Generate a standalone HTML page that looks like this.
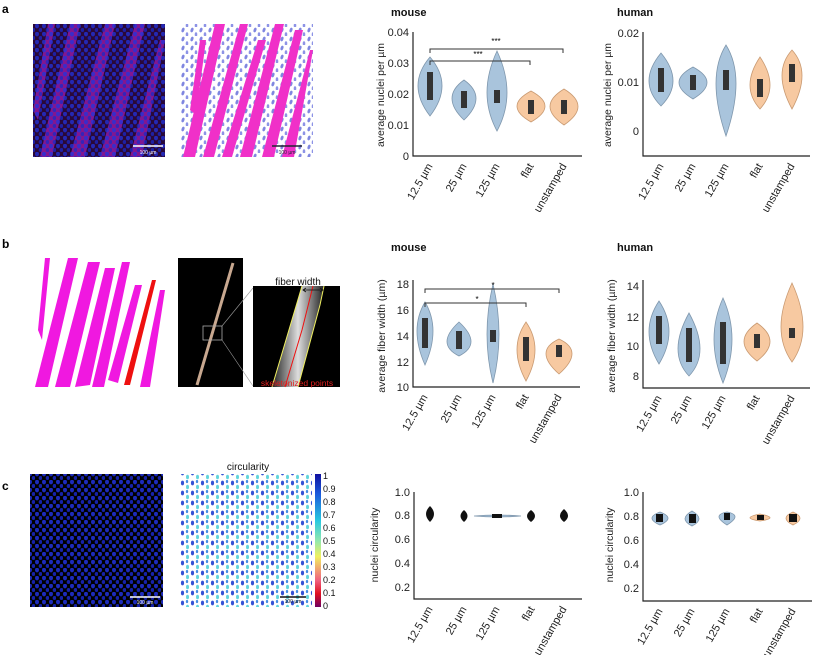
<!DOCTYPE html>
<html><head><meta charset="utf-8"><style>
html,body{margin:0;padding:0;background:#fff}
svg{display:block;font-family:"Liberation Sans",Arial,sans-serif}
.t{font-size:11px;fill:#222}
.al{font-size:10.5px;fill:#222}
.ttl{font-size:11px;font-weight:bold;fill:#111}
.bl{fill:#a9c4dc;stroke:#7f97ad;stroke-width:.8}
.or{fill:#f7c9a1;stroke:#c99a72;stroke-width:.8}
.bx{fill:#333}
.ax{stroke:#222;stroke-width:1.2;fill:none}
.br{stroke:#333;stroke-width:1;fill:none}
</style></head><body>
<svg width="813" height="655" viewBox="0 0 813 655">
<defs>
<pattern id="pb" width="7" height="8" patternUnits="userSpaceOnUse"><ellipse cx="2" cy="2" rx="2" ry="2.4" fill="#2233dd"/><ellipse cx="5.5" cy="6" rx="1.8" ry="2" fill="#1a28c8"/></pattern>
<pattern id="pl" width="9" height="9" patternUnits="userSpaceOnUse"><ellipse cx="3" cy="3" rx="1.4" ry="2.4" fill="#7f86e0" transform="rotate(20 3 3)"/><ellipse cx="7" cy="7.5" rx="1.3" ry="2.2" fill="#8d93e6"/></pattern>
<pattern id="pc" width="10" height="10" patternUnits="userSpaceOnUse"><ellipse cx="2.5" cy="3" rx="1.6" ry="2.4" fill="#2040d0"/><ellipse cx="7.5" cy="7" rx="1.5" ry="2.3" fill="#50d0d8"/><ellipse cx="7" cy="1.5" rx="1.2" ry="1.6" fill="#3080e0"/></pattern>
<linearGradient id="cb" x1="0" y1="0" x2="0" y2="1">
<stop offset="0" stop-color="#1010a0"/><stop offset=".15" stop-color="#1a5adc"/><stop offset=".35" stop-color="#28c8e0"/><stop offset=".5" stop-color="#90e8b0"/><stop offset=".62" stop-color="#f0f060"/><stop offset=".8" stop-color="#f06080"/><stop offset=".9" stop-color="#e01020"/><stop offset="1" stop-color="#700060"/></linearGradient>
<linearGradient id="fb" x1="0" y1="0" x2="1" y2="0"><stop offset="0" stop-color="#222"/><stop offset=".5" stop-color="#ddd"/><stop offset="1" stop-color="#222"/></linearGradient>
</defs>

<text x="2" y="13" style="font-size:12px;font-weight:bold">a</text>
<text x="2" y="248" style="font-size:12px;font-weight:bold">b</text>
<text x="2" y="490" style="font-size:12px;font-weight:bold">c</text>

<!-- image a1 -->
<rect x="33" y="24" width="132" height="133" fill="#2a0838"/>
<g fill="#b020c0" opacity=".65">
<polygon points="40,157 70,24 80,24 52,157"/><polygon points="70,157 105,24 115,24 85,157"/><polygon points="100,157 135,24 145,24 115,157"/><polygon points="130,157 160,40 165,40 142,157"/><polygon points="33,110 48,24 55,24 38,120"/>
</g>
<rect x="33" y="24" width="132" height="133" fill="url(#pb)" opacity=".75"/>
<line x1="133" y1="146" x2="163" y2="146" stroke="#fff" stroke-width="1.5"/>
<text x="148" y="154" text-anchor="middle" style="font-size:5px;fill:#fff">100 µm</text>

<!-- image a2 -->
<rect x="181" y="24" width="132" height="133" fill="#fff"/>
<rect x="181" y="24" width="132" height="133" fill="url(#pl)"/>
<g fill="#f030c8">
<polygon points="183,157 215,24 225,24 195,157"/><polygon points="203,157 240,24 248,24 214,157"/><polygon points="222,157 258,40 266,40 232,157"/><polygon points="240,157 275,24 284,24 252,157"/><polygon points="262,157 295,30 303,30 274,157"/><polygon points="282,157 310,50 313,50 294,157"/><polygon points="190,110 200,40 206,40 196,115"/>
</g>
<line x1="272" y1="146" x2="302" y2="146" stroke="#223" stroke-width="1.5"/>
<text x="287" y="154" text-anchor="middle" style="font-size:5px;fill:#223">100 µm</text>

<!-- mouse a -->
<text x="391" y="16" class="ttl">mouse</text>
<path class="ax" d="M413,32 V156 H582"/>
<g class="t" text-anchor="end">
<text x="409" y="36">0.04</text><text x="409" y="67">0.03</text><text x="409" y="98">0.02</text><text x="409" y="129">0.01</text><text x="409" y="160">0</text></g>
<text class="al" transform="translate(384,95) rotate(-90)" text-anchor="middle">average nuclei per µm</text>
<path class="bl" d="M430,57 Q454,85 430,116 Q406,85 430,57Z"/><rect class="bx" x="427" y="72" width="6" height="28"/>
<path class="bl" d="M464,80 Q488,97 464,120 Q440,97 464,80Z"/><rect class="bx" x="461" y="91" width="6" height="17"/>
<path class="bl" d="M497,51 Q517,94 497,131 Q477,94 497,51Z"/><rect class="bx" x="494" y="90" width="6" height="13"/>
<path class="or" d="M531,91 Q559,106 531,122 Q503,106 531,91Z"/><rect class="bx" x="528" y="100" width="6" height="14"/>
<path class="or" d="M564,89 Q592,106 564,125 Q536,106 564,89Z"/><rect class="bx" x="561" y="100" width="6" height="14"/>
<path class="br" d="M430,53 V49 H563 V53 M430,65 V61 H530 V65"/>
<text x="496" y="44" text-anchor="middle" style="font-size:8px">***</text>
<text x="478" y="57" text-anchor="middle" style="font-size:8px">***</text>
<g class="t" text-anchor="end">
<text transform="translate(433,166) rotate(-60)">12.5 µm</text><text transform="translate(467,166) rotate(-60)">25 µm</text><text transform="translate(500,166) rotate(-60)">125 µm</text><text transform="translate(534,166) rotate(-60)">flat</text><text transform="translate(567,166) rotate(-60)">unstamped</text></g>

<!-- human a -->
<text x="617" y="16" class="ttl">human</text>
<path class="ax" d="M643,32 V156 H810"/>
<g class="t" text-anchor="end"><text x="639" y="37">0.02</text><text x="639" y="86">0.01</text><text x="639" y="135">0</text></g>
<text class="al" transform="translate(611,95) rotate(-90)" text-anchor="middle">average nuclei per µm</text>
<path class="bl" d="M661,53 Q685,82 661,106 Q637,82 661,53Z"/><rect class="bx" x="658" y="68" width="6" height="24"/>
<path class="bl" d="M693,67 Q721,82 693,99 Q665,82 693,67Z"/><rect class="bx" x="690" y="75" width="6" height="15"/>
<path class="bl" d="M726,45 Q746,77 726,136 Q706,77 726,45Z"/><rect class="bx" x="723" y="70" width="6" height="20"/>
<path class="or" d="M760,57 Q780,87 760,109 Q740,87 760,57Z"/><rect class="bx" x="757" y="79" width="6" height="18"/>
<path class="or" d="M792,50 Q812,72 792,109 Q772,72 792,50Z"/><rect class="bx" x="789" y="64" width="6" height="18"/>
<g class="t" text-anchor="end">
<text transform="translate(664,166) rotate(-60)">12.5 µm</text><text transform="translate(696,166) rotate(-60)">25 µm</text><text transform="translate(729,166) rotate(-60)">125 µm</text><text transform="translate(763,166) rotate(-60)">flat</text><text transform="translate(795,166) rotate(-60)">unstamped</text></g>

<!-- image b1 -->
<rect x="33" y="254" width="132" height="133" fill="#fff"/>
<g fill="#f018e0">
<polygon points="35,387 68,258 78,258 48,387"/><polygon points="55,387 88,262 100,262 70,387"/><polygon points="75,387 105,268 115,268 90,385"/><polygon points="92,387 122,262 130,262 104,387"/><polygon points="108,380 135,285 142,285 118,383"/><polygon points="140,387 160,290 165,290 150,387"/><polygon points="38,330 45,258 50,258 42,340"/>
</g>
<polygon points="124,385 152,280 156,280 130,385" fill="#ee1010"/>

<!-- image b2 -->
<rect x="178" y="258" width="65" height="129" fill="#000"/>
<line x1="197" y1="385" x2="233" y2="263" stroke="#c8a890" stroke-width="3"/>
<rect x="203" y="326" width="19" height="14" fill="none" stroke="#aaa" stroke-width=".8"/>
<line x1="222" y1="326" x2="253" y2="288" stroke="#999" stroke-width=".6"/>
<line x1="222" y1="340" x2="253" y2="386" stroke="#999" stroke-width=".6"/>
<rect x="253" y="286" width="87" height="101" fill="#000"/>
<polygon points="272,387 302,286 324,286 320,305 298,387" fill="url(#fb)"/>
<path d="M272,387 L302,286 M298,387 L320,305 L324,286" stroke="#f0f060" stroke-width="1" fill="none"/>
<path d="M285,387 L302,330 L313,286" stroke="#ee1010" stroke-width="1" fill="none"/>
<text x="298" y="285" text-anchor="middle" style="font-size:10px;fill:#111">fiber width</text>
<path d="M303,290 H323 M306,288 L303,290 L306,292 M320,288 L323,290 L320,292" stroke="#111" stroke-width=".8" fill="none"/>
<text x="297" y="386" text-anchor="middle" style="font-size:8.5px;fill:#e02020">skeletonized points</text>

<!-- mouse b -->
<text x="391" y="251" class="ttl">mouse</text>
<path class="ax" d="M413,280 V387 H580"/>
<g class="t" text-anchor="end"><text x="409" y="288">18</text><text x="409" y="314">16</text><text x="409" y="340">14</text><text x="409" y="366">12</text><text x="409" y="391">10</text></g>
<text class="al" transform="translate(385,336) rotate(-90)" text-anchor="middle">average fiber width (µm)</text>
<path class="bl" d="M425,302 Q441,329 425,365 Q409,329 425,302Z"/><rect class="bx" x="422" y="318" width="6" height="30"/>
<path class="bl" d="M459,322 Q483,344 459,356 Q435,344 459,322Z"/><rect class="bx" x="456" y="331" width="6" height="18"/>
<path class="bl" d="M493,284 Q505,335 493,383 Q481,335 493,284Z"/><rect class="bx" x="490" y="330" width="6" height="12"/>
<path class="or" d="M526,322 Q544,348 526,381 Q508,348 526,322Z"/><rect class="bx" x="523" y="337" width="6" height="24"/>
<path class="or" d="M559,339 Q585,351 559,374 Q533,351 559,339Z"/><rect class="bx" x="556" y="345" width="6" height="12"/>
<path class="br" d="M425,293 V289 H559 V293 M425,307 V303 H526 V307"/>
<text x="477" y="302" text-anchor="middle" style="font-size:8px">*</text>
<text x="493" y="288" text-anchor="middle" style="font-size:8px">*</text>
<g class="t" text-anchor="end">
<text transform="translate(428,397) rotate(-60)">12.5 µm</text><text transform="translate(462,397) rotate(-60)">25 µm</text><text transform="translate(496,397) rotate(-60)">125 µm</text><text transform="translate(529,397) rotate(-60)">flat</text><text transform="translate(562,397) rotate(-60)">unstamped</text></g>

<!-- human b -->
<text x="617" y="251" class="ttl">human</text>
<path class="ax" d="M643,280 V388 H810"/>
<g class="t" text-anchor="end"><text x="639" y="290">14</text><text x="639" y="321">12</text><text x="639" y="350">10</text><text x="639" y="380">8</text></g>
<text class="al" transform="translate(615,336) rotate(-90)" text-anchor="middle">average fiber width (µm)</text>
<path class="bl" d="M659,301 Q679,331 659,364 Q639,331 659,301Z"/><rect class="bx" x="656" y="316" width="6" height="28"/>
<path class="bl" d="M689,313 Q711,353 689,376 Q667,353 689,313Z"/><rect class="bx" x="686" y="328" width="6" height="34"/>
<path class="bl" d="M723,298 Q741,338 723,383 Q705,338 723,298Z"/><rect class="bx" x="720" y="322" width="6" height="42"/>
<path class="or" d="M757,323 Q783,341 757,361 Q731,341 757,323Z"/><rect class="bx" x="754" y="334" width="6" height="14"/>
<path class="or" d="M792,283 Q814,331 792,362 Q770,331 792,283Z"/><rect class="bx" x="789" y="328" width="6" height="10"/>
<g class="t" text-anchor="end">
<text transform="translate(662,398) rotate(-60)">12.5 µm</text><text transform="translate(692,398) rotate(-60)">25 µm</text><text transform="translate(726,398) rotate(-60)">125 µm</text><text transform="translate(760,398) rotate(-60)">flat</text><text transform="translate(795,398) rotate(-60)">unstamped</text></g>

<!-- image c1 -->
<rect x="30" y="474" width="133" height="133" fill="#000"/>
<rect x="30" y="474" width="133" height="133" fill="url(#pb)" opacity=".85"/>
<line x1="130" y1="597" x2="160" y2="597" stroke="#fff" stroke-width="1.5"/>
<text x="145" y="604" text-anchor="middle" style="font-size:5px;fill:#fff">100 µm</text>
<!-- image c2 -->
<text x="248" y="470" text-anchor="middle" style="font-size:10px;fill:#111">circularity</text>
<rect x="180" y="474" width="132" height="133" fill="#fff"/>
<rect x="180" y="474" width="132" height="133" fill="url(#pc)" opacity=".9"/>
<line x1="280" y1="597" x2="306" y2="597" stroke="#111" stroke-width="1.5"/>
<text x="293" y="603" text-anchor="middle" style="font-size:5px;fill:#111">100 µm</text>
<rect x="315" y="474" width="6" height="133" fill="url(#cb)"/>
<g style="font-size:9px;fill:#111"><text x="323" y="479">1</text><text x="323" y="492">0.9</text><text x="323" y="505">0.8</text><text x="323" y="518">0.7</text><text x="323" y="531">0.6</text><text x="323" y="544">0.5</text><text x="323" y="557">0.4</text><text x="323" y="570">0.3</text><text x="323" y="583">0.2</text><text x="323" y="596">0.1</text><text x="323" y="609">0</text></g>

<!-- mouse c -->
<path class="ax" d="M414,492 V599 H582"/>
<g class="t" text-anchor="end"><text x="410" y="496">1.0</text><text x="410" y="519">0.8</text><text x="410" y="543">0.6</text><text x="410" y="567">0.4</text><text x="410" y="591">0.2</text></g>
<text class="al" transform="translate(378,545) rotate(-90)" text-anchor="middle">nuclei circularity</text>
<path d="M430,506 Q438,514 430,522 Q422,514 430,506Z" fill="#111"/>
<path d="M464,510 Q471,516 464,522 Q457,516 464,510Z" fill="#111"/>
<path class="bl" d="M474,516 Q497,514 521,516 Q497,518 474,516Z"/><rect x="492" y="514" width="10" height="4" fill="#111"/>
<path d="M531,510 Q539,516 531,522 Q523,516 531,510Z" fill="#111"/>
<path d="M564,509 Q572,516 564,522 Q556,516 564,509Z" fill="#111"/>
<g class="t" text-anchor="end">
<text transform="translate(433,609) rotate(-60)">12.5 µm</text><text transform="translate(467,609) rotate(-60)">25 µm</text><text transform="translate(500,609) rotate(-60)">125 µm</text><text transform="translate(535,609) rotate(-60)">flat</text><text transform="translate(567,609) rotate(-60)">unstamped</text></g>

<!-- human c -->
<path class="ax" d="M643,492 V601 H812"/>
<g class="t" text-anchor="end"><text x="639" y="496">1.0</text><text x="639" y="520">0.8</text><text x="639" y="544">0.6</text><text x="639" y="568">0.4</text><text x="639" y="592">0.2</text></g>
<text class="al" transform="translate(613,545) rotate(-90)" text-anchor="middle">nuclei circularity</text>
<path class="bl" d="M660,512 Q676,518 660,525 Q644,518 660,512Z"/><rect x="656" y="514" width="7" height="8" fill="#111"/>
<path class="bl" d="M692,511 Q706,519 692,526 Q678,519 692,511Z"/><rect x="689" y="514" width="7" height="9" fill="#111"/>
<path class="bl" d="M727,512 Q743,515 727,525 Q711,515 727,512Z"/><rect x="724" y="513" width="6" height="7" fill="#111"/>
<path class="or" d="M760,514 Q780,518 760,521 Q740,518 760,514Z"/><rect x="757" y="515" width="7" height="5" fill="#111"/>
<path class="or" d="M793,512 Q807,518 793,525 Q779,518 793,512Z"/><rect x="789" y="514" width="8" height="8" fill="#111"/>
<g class="t" text-anchor="end">
<text transform="translate(663,611) rotate(-60)">12.5 µm</text><text transform="translate(695,611) rotate(-60)">25 µm</text><text transform="translate(730,611) rotate(-60)">125 µm</text><text transform="translate(763,611) rotate(-60)">flat</text><text transform="translate(796,611) rotate(-60)">unstamped</text></g>
</svg>
</body></html>
